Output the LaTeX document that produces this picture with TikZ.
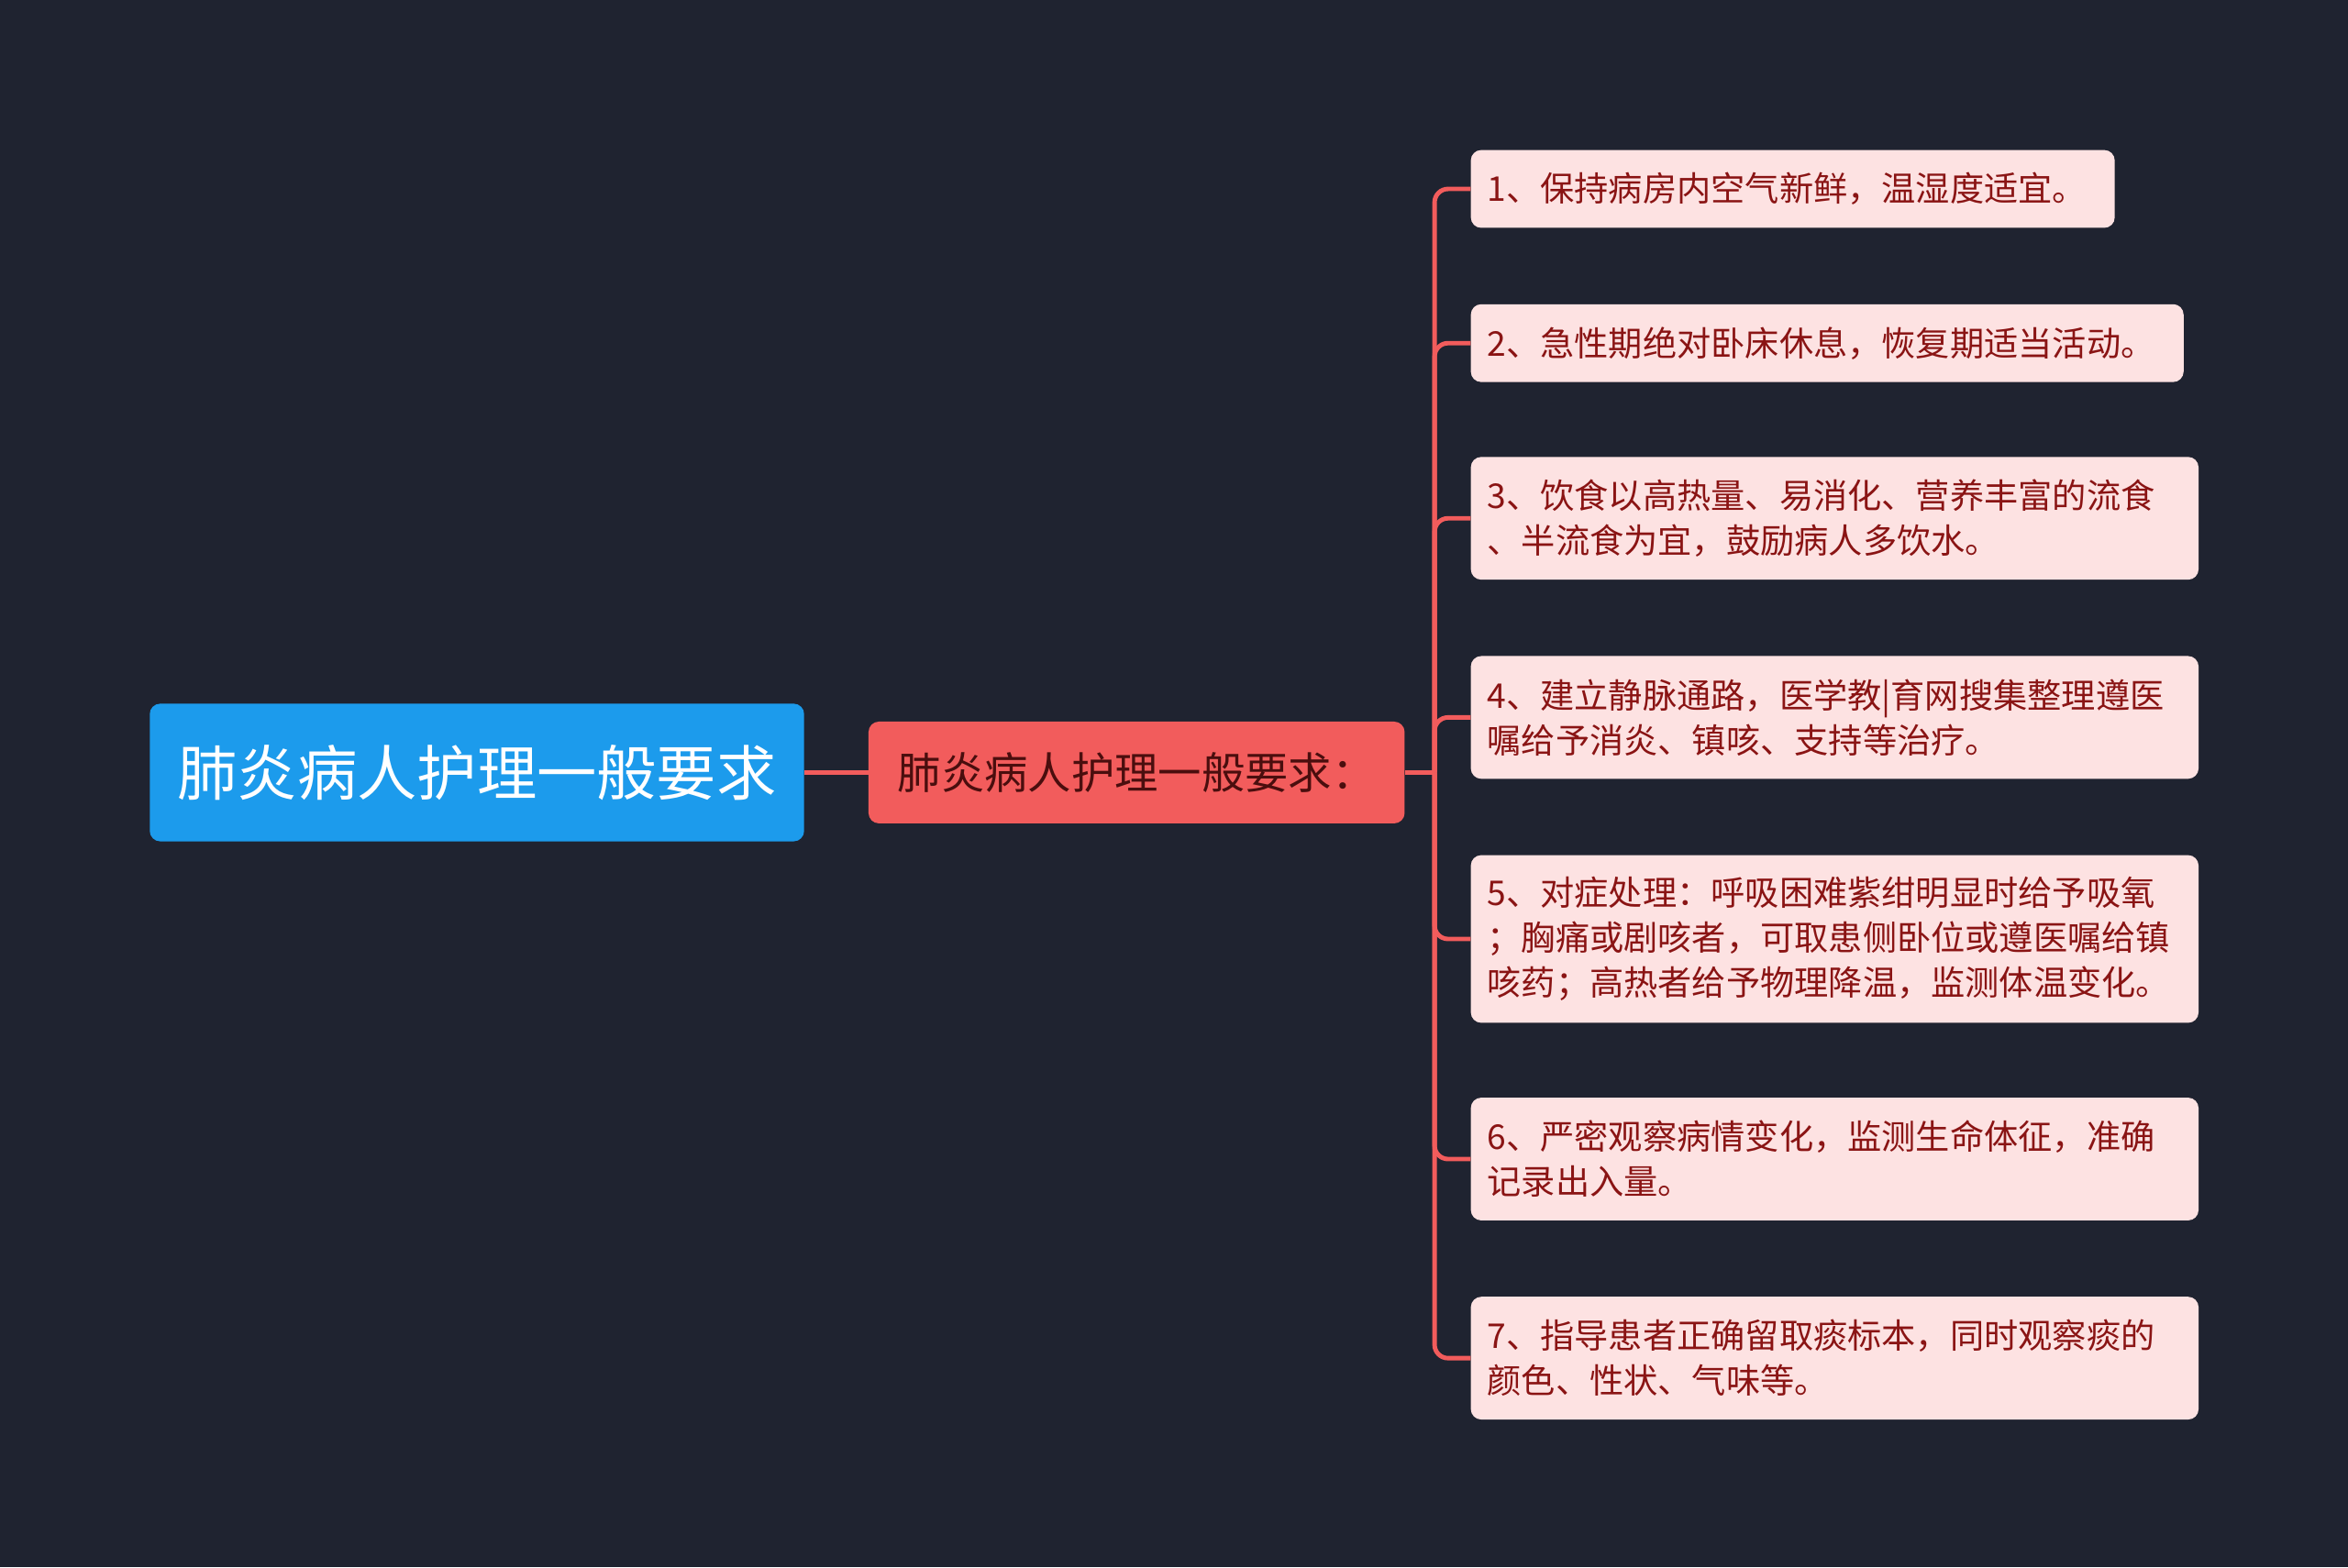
\documentclass[tikz,border=0pt]{standalone}
\usepackage{fontspec}
\setmainfont{Noto Sans CJK SC}
\definecolor{bg}{HTML}{1F2330}
\definecolor{rootc}{HTML}{1C9BEC}
\definecolor{midc}{HTML}{F25C5C}
\definecolor{leafc}{HTML}{FDE2E2}
\definecolor{leaft}{HTML}{8A1414}
\definecolor{midt}{HTML}{4A0E0E}
\begin{document}
\begin{tikzpicture}[x=1pt,y=1pt,
  leaf/.style={fill=leafc,rounded corners=7pt,anchor=north west,inner xsep=11pt,inner ysep=0pt,
    align=left,text=leaft,font=\fontsize{22.8}{30}\selectfont},
  conn/.style={draw=midc,line width=3pt,rounded corners=9pt}]
\fill[bg] (0,0) rectangle (1568,-1047);
\node[fill=rootc,rounded corners=7pt,minimum width=437,minimum height=92,text=white,font=\fontsize{40}{46}\selectfont] (root) at (318.5,-516) {肺炎病人护理一般要求};
\node[fill=midc,rounded corners=7pt,minimum width=358,minimum height=68,text=midt,font=\fontsize{29}{35}\selectfont] (mid) at (759,-516) {肺炎病人护理一般要求：};
\draw[conn] (root.east) -- (mid.west);
\coordinate (j) at (958,-516);
\draw[conn] (mid.east) -- (j);
\node[leaf,minimum width=430,minimum height=52,text width=408] (l1) at (982,-100) {1、保持病房内空气新鲜，温湿度适宜。};
\node[leaf,minimum width=476,minimum height=52,text width=454] (l2) at (982,-203) {2、急性期绝对卧床休息，恢复期适当活动。};
\node[leaf,minimum width=486,minimum height=82,text width=464] (l3) at (982,-305) {3、饮食以高热量、易消化、营养丰富的流食\\、半流食为宜，鼓励病人多饮水。};
\node[leaf,minimum width=486,minimum height=82,text width=464] (l4) at (982,-438) {4、建立静脉通路，医学教|育网搜集整理遵医\\嘱给予消炎、镇咳、支持等治疗。};
\node[leaf,minimum width=486,minimum height=112,text width=464] (l5) at (982,-571) {5、对症处理：呼吸困难紫绀明显时给予吸氧\\；胸痛或剧咳者，可取患侧卧位或遵医嘱给镇\\咳药；高热者给予物理降温，监测体温变化。};
\node[leaf,minimum width=486,minimum height=82,text width=464] (l6) at (982,-733) {6、严密观察病情变化，监测生命体征，准确\\记录出入量。};
\node[leaf,minimum width=486,minimum height=82,text width=464] (l7) at (982,-866) {7、指导患者正确留取痰标本，同时观察痰的\\颜色、性状、气味等。};
\foreach \n in {l1,l2,l3,l4,l5,l6,l7}
  \draw[conn] (j) |- (\n.west);
\end{tikzpicture}
\end{document}
